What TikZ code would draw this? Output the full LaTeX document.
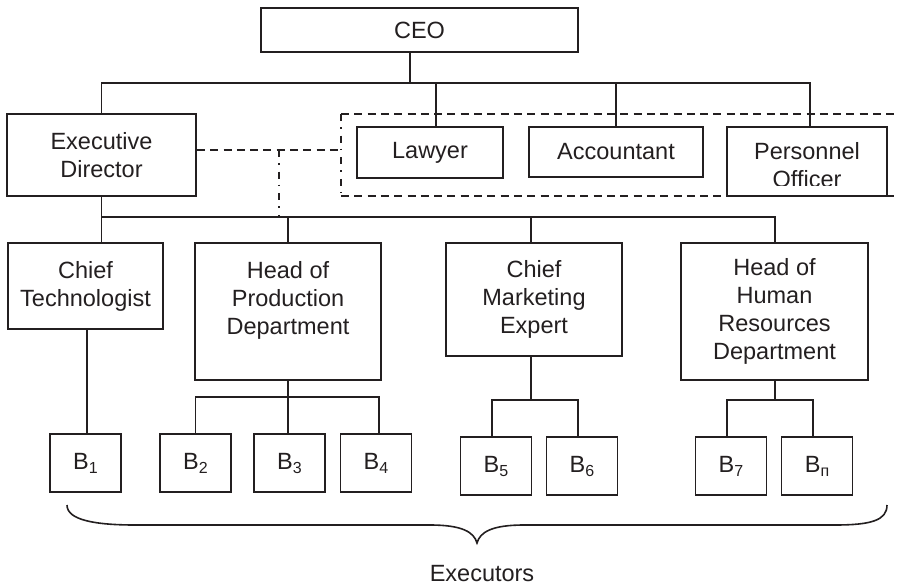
\documentclass[tikz,border=0pt]{standalone}
\usepackage{fontspec}
\setmainfont{Liberation Sans}
\newcommand\orgfont{\fontsize{23.5pt}{28pt}\selectfont}
\newcommand\subidx[1]{\raisebox{-4pt}{\fontsize{16pt}{16pt}\selectfont #1}}
\definecolor{ink}{RGB}{35,31,32}
\begin{document}
\begin{tikzpicture}[x=1pt,y=-1pt,
  box/.style={draw=ink, line width=1.8pt, align=center, font=\orgfont, text=ink, inner sep=2pt},
  exbox/.style={box, minimum width=71pt, minimum height=58pt},
  link/.style={draw=ink, line width=1.8pt},
  staffline/.style={draw=ink, line width=1.6pt, dash pattern=on 8pt off 5.3pt},
  dotdash/.style={draw=ink, line width=1.6pt, dash pattern=on 7pt off 6pt on 1.6pt off 7pt},
  caption/.style={font=\orgfont, text=ink}]
\useasboundingbox (0,0) rectangle (899,586);

% top level
\node[box, minimum width=317pt, minimum height=44pt] (ceo) at (419.5,30) {CEO};
\node[box, minimum width=189pt, minimum height=82pt] (ed) at (101.5,155) {Executive\\Director};
\node[box, minimum width=146pt, minimum height=51pt] (lawyer) at (430,152.5) {Lawyer};
\node[box, minimum width=174pt, minimum height=50pt] (acc) at (616,152) {Accountant};
\node[box, minimum width=160pt, minimum height=69pt] (pers) at (807,161.5) {};
\begin{scope}
  \clip (727,127) rectangle (887,185);
  \node[caption, align=center] (perstext) at (807,165.5) {Personnel\\Officer};
\end{scope}

% department heads
\node[box, minimum width=155pt, minimum height=86pt] (ct) at (85.5,286) {Chief\\Technologist};
\node[box, minimum width=186pt, minimum height=137pt] (hp) at (288,311.5) {Head of\\Production\\Department\\\mbox{}};
\node[box, minimum width=176pt, minimum height=113pt] (cm) at (534,299.5) {Chief\\Marketing\\Expert};
\node[box, minimum width=187pt, minimum height=137pt] (hr) at (774.5,311.5) {Head of\\Human\\Resources\\Department};

% executors
\node[exbox] (b1) at (85.5,463) {B\subidx{1}};
\node[exbox] (b2) at (195.5,463) {B\subidx{2}};
\node[exbox] (b3) at (289.5,463) {B\subidx{3}};
\node[exbox] (b4) at (376,463) {B\subidx{4}};
\node[exbox] (b5) at (496,466) {B\subidx{5}};
\node[exbox] (b6) at (582,466) {B\subidx{6}};
\node[exbox] (b7) at (731,466) {B\subidx{7}};
\node[exbox] (bn) at (817,466) {B\subidx{п}};

% CEO bus
\coordinate (ceotap) at (410,83);
\coordinate (topend) at (810,83);
\coordinate (lawtap) at (436,83);
\draw[link] (ceotap |- ceo.south) -- (ceotap);
\draw[link] (ed.north) |- (topend) -- (topend |- pers.north);
\draw[link] (lawtap) -- (lawtap |- lawyer.north);
\draw[link] (acc.north) -- (acc.north |- topend);

% staff group (dashed frame)
\coordinate (stafftl) at (341,114);
\coordinate (staffbl) at (341,196);
\coordinate (stafftr) at (897,114);
\coordinate (staffbr) at (897,196);
\draw[staffline] (stafftl) -- (stafftr);
\draw[staffline] (staffbl) -- (staffbr);
\draw[dotdash] (stafftl) -- (staffbl);
\coordinate (edlink) at ([yshift=5pt]ed.east);
\draw[staffline] (edlink) -- (edlink -| stafftl);
\coordinate (ddtop) at (279,150);
\coordinate (midbus) at (101.5,217);
\draw[dotdash] (ddtop) -- (ddtop |- midbus);

% director bus
\coordinate (midend) at (775,217);
\coordinate (cmtap) at (531,217);
\draw[link] (ed.south) -- (ed.south |- ct.north);
\draw[link] (midbus) -- (midend) -- (midend |- hr.north);
\draw[link] (hp.north) -- (hp.north |- midbus);
\draw[link] (cmtap) -- (cmtap |- cm.north);

% heads to executors
\draw[link] ([xshift=1.5pt]ct.south) -- ([xshift=1.5pt]b1.north);
\coordinate (hpbus) at (288,397);
\draw[link] (hp.south) -- (hpbus);
\draw[link] (b2.north) |- (hpbus) -| ([xshift=3pt]b4.north);
\draw[link] (hpbus) -- (hpbus |- b3.north);
\coordinate (cmbus) at (531,400);
\draw[link] (cmbus |- cm.south) -- (cmbus);
\draw[link] ([xshift=-4pt]b5.north) |- (cmbus) -| ([xshift=-4pt]b6.north);
\coordinate (hrbus) at (775,400);
\draw[link] (hrbus |- hr.south) -- (hrbus);
\draw[link] ([xshift=-4pt]b7.north) |- (hrbus) -| ([xshift=-4pt]bn.north);

% brace over all executors
\coordinate (braceL) at (67,505);
\coordinate (braceTip) at (477,543);
\coordinate (braceR) at (887,505);
\draw[link, line width=1.6pt] (braceL) .. controls (67,520) and (95,525) .. (135,525) -- (430,525)
  .. controls (462,525) and (474,532) .. (braceTip)
  .. controls (480,532) and (492,525) .. (524,525) -- (835,525)
  .. controls (872,525) and (887,520) .. (braceR);
\node[caption] (executors) at (482,573.5) {Executors};
\end{tikzpicture}
\end{document}
